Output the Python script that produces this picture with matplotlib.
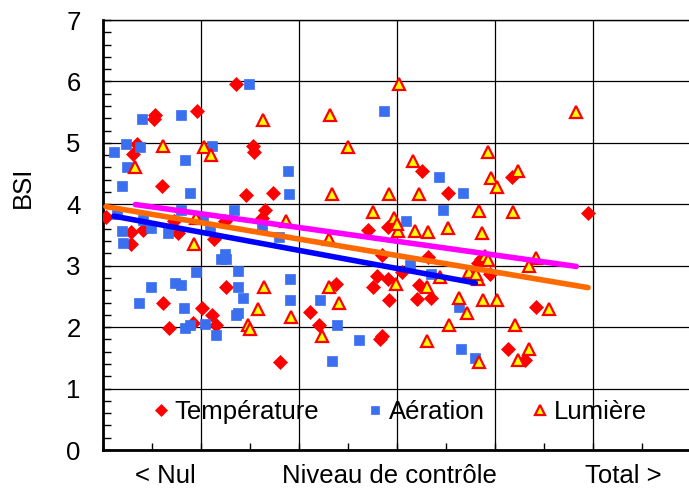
import numpy as np
import matplotlib
matplotlib.use("Agg")
import matplotlib.pyplot as plt
import matplotlib.transforms as mtransforms
from matplotlib.ticker import MultipleLocator

plt.rcParams['font.family'] = ['Liberation Sans', 'DejaVu Sans']

# valeurs
temp_x = [1.36, 0.53, 0.52, 0.96, 0.35, 0.31, 1.53, 1.54, 0.60, 1.46,
          0.03, 0.29, 0.29, 0.41, 0.72, 0.77, 1.13, 1.24, 1.26, 0.61,
          1.01, 1.11, 0.67, 1.15, 1.73, 1.65, 1.62, 2.70, 2.91, 2.85,
          2.38, 2.11, 2.20, 2.83, 2.85, 2.80, 2.91, 2.76, 2.92, 1.81,
          3.26, 4.17, 3.52, 3.32, 3.05, 3.83, 3.86, 3.95, 3.22, 3.20,
          3.35, 4.42, 4.13, 4.31, 4.95, 0.92]
temp_y = [5.96, 5.46, 5.39, 5.52, 4.98, 4.82, 4.95, 4.85, 4.30, 4.15,
          3.80, 3.55, 3.36, 3.58, 3.72, 3.53, 3.43, 3.73, 2.66, 2.40,
          2.31, 2.19, 1.98, 2.04, 4.18, 3.90, 3.78, 3.58, 3.63, 3.17,
          2.71, 2.24, 2.03, 1.81, 1.85, 2.83, 2.78, 2.65, 2.45, 1.44,
          4.54, 4.44, 4.18, 3.14, 2.89, 3.05, 3.11, 2.86, 2.69, 2.46,
          2.47, 2.32, 1.65, 1.47, 3.86, 2.06]

aer_x = [1.49, 0.40, 0.80, 0.23, 0.38, 1.11, 0.11, 0.24, 0.84, 0.19,
         0.89, 0.14, 0.19, 0.20, 0.49, 0.41, 0.66, 0.80, 1.02, 1.09,
         1.34, 1.20, 1.26, 1.25, 0.95, 1.38, 0.49, 0.73, 0.80, 1.38,
         0.37, 0.83, 1.43, 1.38, 1.36, 0.84, 0.89, 1.04, 1.15, 2.87,
         1.89, 1.90, 1.62, 1.80, 1.91, 1.91, 2.21, 2.39, 2.61, 2.34,
         3.43, 3.67, 3.47, 3.09, 3.13, 3.35, 3.63, 3.65, 3.80]
aer_y = [5.96, 5.39, 5.46, 4.98, 4.93, 4.95, 4.85, 4.61, 4.72, 4.30,
         4.18, 3.84, 3.57, 3.37, 3.62, 3.74, 3.54, 3.90, 3.78, 3.58,
         3.90, 3.11, 3.11, 3.19, 2.89, 2.92, 2.66, 2.72, 2.68, 2.66,
         2.40, 2.31, 2.48, 2.23, 2.19, 1.98, 2.04, 2.05, 1.88, 5.52,
         4.54, 4.16, 3.63, 3.46, 2.78, 2.45, 2.45, 2.04, 1.79, 1.45,
         4.45, 4.18, 3.90, 3.73, 3.01, 2.86, 2.32, 1.65, 1.49]

lum_x = [3.02, 4.83, 0.61, 1.03, 1.10, 0.33, 1.63, 2.32, 2.50, 2.34,
         2.92, 0.95, 0.93, 1.58, 1.48, 1.50, 1.87, 2.31, 2.76, 2.97,
         3.01, 3.00, 1.64, 1.92, 2.31, 2.41, 2.23, 2.99, 3.16, 3.93,
         3.96, 4.02, 4.24, 3.22, 3.84, 4.18, 3.18, 3.32, 3.52, 3.87,
         3.44, 3.73, 3.90, 3.93, 3.83, 3.81, 4.42, 4.35, 3.31, 3.63,
         3.71, 3.88, 4.02, 4.55, 3.53, 4.20, 3.31, 4.35, 4.23, 3.84]
lum_y = [5.96, 5.51, 4.95, 4.93, 4.81, 4.60, 5.38, 5.46, 4.93, 4.17,
         4.16, 3.77, 3.35, 2.30, 2.03, 1.97, 3.73, 3.43, 3.88, 3.77,
         3.57, 3.68, 2.65, 2.17, 2.66, 2.39, 1.86, 2.70, 4.71, 4.85,
         4.43, 4.28, 4.54, 4.17, 3.89, 3.87, 3.57, 3.55, 3.61, 3.53,
         2.82, 2.89, 3.16, 3.09, 2.78, 2.86, 3.13, 3.00, 2.65, 2.47,
         2.23, 2.44, 2.44, 2.30, 2.04, 2.03, 1.77, 1.64, 1.46, 1.44]

# droites de tendance (ordonnée à l'origine, pente)
trend_temp = (3.97, -0.268)
trend_aer = (3.84, -0.295)
trend_lum = (4.07, -0.224)

series_names = ['Température', 'Aération', 'Lumière']
x_labels = ['< Nul', 'Niveau de contrôle', 'Total >']
x_label_pos = [0.64, 2.92, 5.31]

fig = plt.figure(figsize=(6.89, 4.88), dpi=100)
ax = fig.add_axes([103 / 689, 38 / 488, 586 / 689, 430 / 488])

ax.plot(temp_x, temp_y, 'D', color='#FF0000', ms=6.8, mec='#FF0000', mew=0.5,
        label=series_names[0], zorder=3)
ax.plot(aer_x, aer_y, 's', color='#3A6FF0', ms=7.2, mec='#3A6FF0', mew=0.5,
        label=series_names[1], zorder=3)
ax.plot(lum_x, lum_y, '^', color='#FFFF00', ms=8, mec='#FF0000', mew=1.6,
        label=series_names[2], zorder=3)

for xs, (b, a), col in [(temp_x, trend_temp, '#FF6A00'),
                        (aer_x, trend_aer, '#0000FF'),
                        (lum_x, trend_lum, '#FF00FF')]:
    xx = np.array([min(xs), max(xs)])
    ax.plot(xx, b + a * xx, color=col, lw=4, solid_capstyle='round', zorder=4)

ax.set_xlim(0, 5.98)
ax.set_ylim(0, 7)
ax.xaxis.set_major_locator(MultipleLocator(1))
ax.xaxis.set_minor_locator(MultipleLocator(0.5))
ax.yaxis.set_major_locator(MultipleLocator(1))
ax.yaxis.set_minor_locator(MultipleLocator(0.2))
ax.grid(True, which='major', color='black', lw=0.9)
ax.set_axisbelow(True)
ax.tick_params(axis='x', which='both', direction='in', labelbottom=False,
               length=5, width=1)
ax.tick_params(axis='y', which='major', direction='in', length=6, width=1,
               labelsize=18.5, pad=16)
ax.tick_params(axis='y', which='minor', direction='in', length=6, width=1)
ax.spines['right'].set_visible(False)
ax.spines['left'].set_linewidth(2)
ax.spines['bottom'].set_linewidth(2)
ax.spines['top'].set_linewidth(1)

trans = mtransforms.blended_transform_factory(ax.transData, ax.transAxes)
for pos, lab in zip(x_label_pos, x_labels):
    ax.text(pos, -0.077, lab, transform=trans, ha='center', va='baseline',
            fontsize=18.5)

ax.text(-0.137, 0.612, 'BSI', transform=ax.transAxes, rotation=90,
        ha='center', va='center', fontsize=18.5)

ax.legend(loc='center', bbox_to_anchor=(0.507, 0.088), ncol=3, frameon=False,
          fontsize=18.5, handlelength=0.6, handletextpad=0.25,
          columnspacing=1.85, borderaxespad=0, markerscale=0.85)

fig.savefig('out.png', dpi=100)
